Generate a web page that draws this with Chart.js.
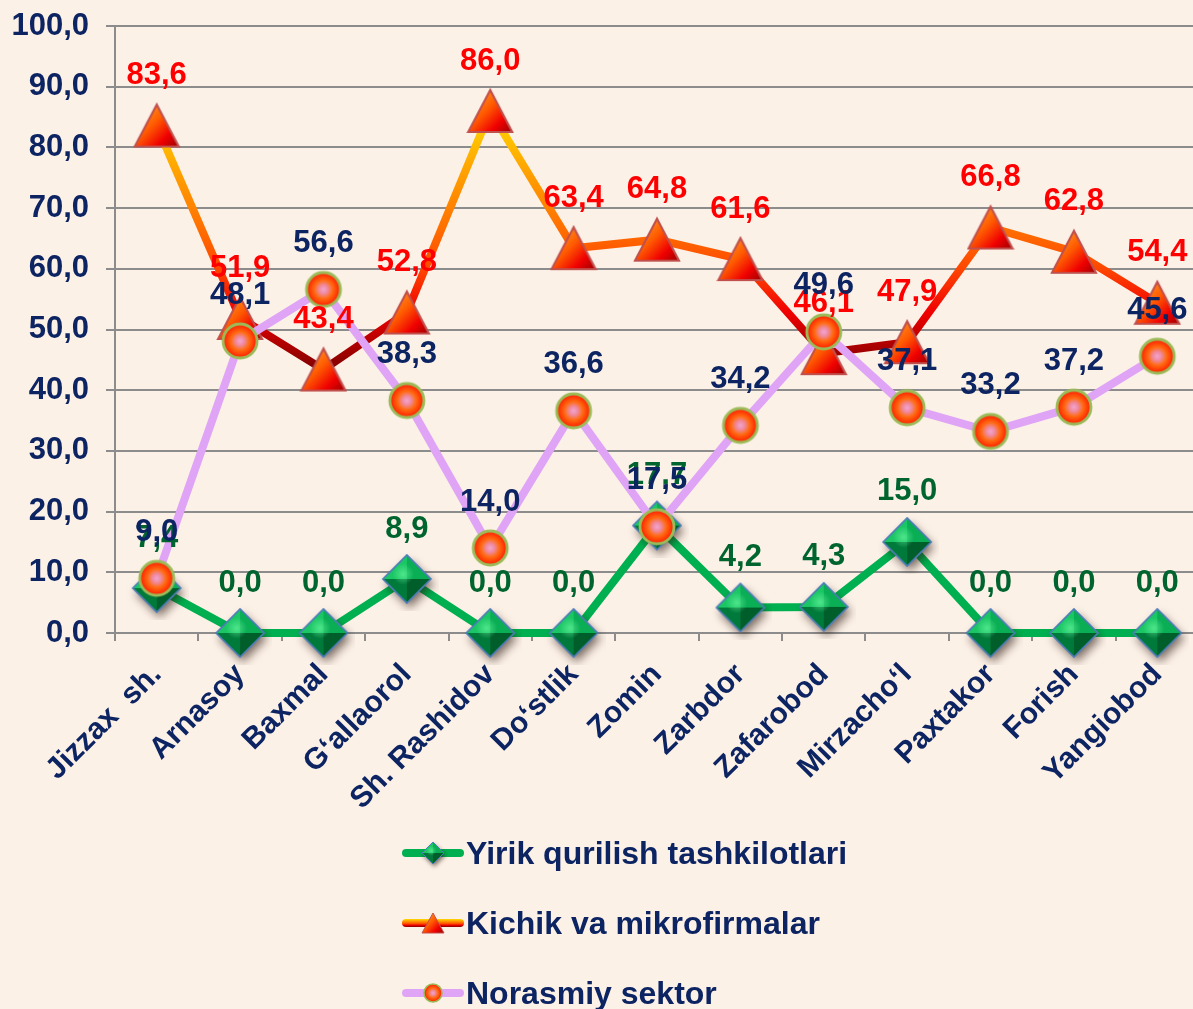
<!DOCTYPE html>
<html>
<head>
<meta charset="utf-8">
<script src="https://cdn.jsdelivr.net/npm/chart.js@4.4.1/dist/chart.umd.min.js"></script>
<style>
  html, body { margin: 0; padding: 0; background: #FCF1E7; overflow: hidden; }
  #wrap { position: relative; width: 1193px; height: 1009px; overflow: hidden; background: #FCF1E7; }
  #chart { position: absolute; left: 0; top: 0; }
  #legend { position: absolute; left: 402px; top: 818px; font: bold 32px "Liberation Sans", Arial, sans-serif; color: #0D2463; }
  .item { height: 70px; display: flex; align-items: center; white-space: nowrap; }
  .item canvas { margin-right: 2px; }
</style>
</head>
<body>
<div id="wrap">
  <canvas id="chart" width="1200" height="820"></canvas>
  <div id="legend"></div>
</div>
<script>
const districts = ['Jizzax  sh.', 'Arnasoy', 'Baxmal', 'G\u2018allaorol', 'Sh. Rashidov', 'Do\u2018stlik', 'Zomin',
  'Zarbdor', 'Zafarobod', 'Mirzacho\u2018l', 'Paxtakor', 'Forish', 'Yangiobod'];
const largeFirms = [7.4, 0.0, 0.0, 8.9, 0.0, 0.0, 17.7, 4.2, 4.3, 15.0, 0.0, 0.0, 0.0];
const smallFirms = [83.6, 51.9, 43.4, 52.8, 86.0, 63.4, 64.8, 61.6, 46.1, 47.9, 66.8, 62.8, 54.4];
const informal = [9.0, 48.1, 56.6, 38.3, 14.0, 36.6, 17.5, 34.2, 49.6, 37.1, 33.2, 37.2, 45.6];
const seriesNames = ['Yirik qurilish tashkilotlari', 'Kichik va mikrofirmalar', 'Norasmiy sektor'];
const yTicks = [0, 10, 20, 30, 40, 50, 60, 70, 80, 90, 100];

const NAVY = '#0D2463';
const FONT = '"Liberation Sans", Arial, sans-serif';
const fmt = v => v.toFixed(1).replace('.', ',');

// marker images (Excel-like 3d markers)
function makeDiamond(r) {
  const s = Math.ceil(r * 2 + 16), c = document.createElement('canvas');
  c.width = c.height = s;
  const g = c.getContext('2d'), cx = s / 2, cy = s / 2;
  const pts = [[cx - r, cy], [cx, cy - r], [cx + r, cy], [cx, cy + r]];
  const path = () => { g.beginPath(); pts.forEach((p, i) => i ? g.lineTo(p[0], p[1]) : g.moveTo(p[0], p[1])); g.closePath(); };
  g.save();
  g.shadowColor = 'rgba(40,20,10,0.6)'; g.shadowBlur = r * 0.4; g.shadowOffsetX = r * 0.12; g.shadowOffsetY = r * 0.22;
  path(); g.fillStyle = '#00743A'; g.fill();
  g.restore();
  const facets = [['#1BC665', 0, 1], ['#0AAE55', 1, 2], ['#005E2B', 2, 3], ['#007A3A', 3, 0]];
  facets.forEach(([col, a, b]) => {
    g.beginPath(); g.moveTo(pts[a][0], pts[a][1]); g.lineTo(pts[b][0], pts[b][1]); g.lineTo(cx, cy); g.closePath();
    g.fillStyle = col; g.fill();
  });
  // small highlight near the apex
  const hl = g.createRadialGradient(cx - r * 0.15, cy - r * 0.2, 0, cx - r * 0.15, cy - r * 0.2, r * 0.45);
  hl.addColorStop(0, 'rgba(120,255,170,0.55)'); hl.addColorStop(1, 'rgba(120,255,170,0)');
  path(); g.fillStyle = hl; g.fill();
  path(); g.strokeStyle = '#4F7DB8'; g.lineWidth = Math.max(1, r / 14); g.stroke();
  return c;
}

function makeTriangle(h) {
  const s = Math.ceil(h + 6), c = document.createElement('canvas');
  c.width = c.height = s;
  const g = c.getContext('2d'), cx = s / 2, cy = s / 2;
  g.beginPath(); g.moveTo(cx, cy - h / 2); g.lineTo(cx + h / 2 + 1, cy + h / 2); g.lineTo(cx - h / 2 - 1, cy + h / 2); g.closePath();
  const gr = g.createLinearGradient(cx - h / 2, cy - h / 2, cx + h / 2, cy + h / 2);
  gr.addColorStop(0, '#FFB030'); gr.addColorStop(0.45, '#FF5A00'); gr.addColorStop(0.75, '#F00000'); gr.addColorStop(1, '#A00000');
  g.fillStyle = gr; g.fill();
  g.strokeStyle = '#C0504D'; g.lineWidth = Math.max(1, h / 20); g.stroke();
  return c;
}

function makeCircle(r) {
  const s = Math.ceil(r * 2 + 6), c = document.createElement('canvas');
  c.width = c.height = s;
  const g = c.getContext('2d'), cx = s / 2, cy = s / 2;
  const gr = g.createRadialGradient(cx, cy, 0, cx, cy, r);
  gr.addColorStop(0, '#F2A6D0'); gr.addColorStop(0.25, '#F08AA0'); gr.addColorStop(0.55, '#FF6A10'); gr.addColorStop(1, '#FF1800');
  g.beginPath(); g.arc(cx, cy, r, 0, Math.PI * 2); g.fillStyle = gr; g.fill();
  g.strokeStyle = '#9BBB59'; g.lineWidth = Math.max(1.5, r / 6); g.stroke();
  return c;
}

const diamondImg = makeDiamond(24);
const triangleImg = makeTriangle(42);
const circleImg = makeCircle(17);

function smallFirmsGradient(ctx, top, bottom) {
  const gr = ctx.createLinearGradient(0, top, 0, bottom);
  gr.addColorStop(0, '#FFDC00');
  gr.addColorStop(0.2, '#FFAA00');
  gr.addColorStop(0.45, '#FF7000');
  gr.addColorStop(0.6, '#FF4A00');
  gr.addColorStop(0.78, '#F00000');
  gr.addColorStop(0.9, '#B00000');
  gr.addColorStop(1, '#800000');
  return gr;
}

const labelOffsets = [50, 50, 46];
const labelColors = ['#00642F', '#FF0000', NAVY];

const dataLabels = {
  id: 'dataLabels',
  afterDatasetsDraw(chart) {
    const c = chart.ctx;
    c.save();
    c.font = 'bold 31px ' + FONT;
    c.textAlign = 'center';
    c.textBaseline = 'middle';
    chart.data.datasets.forEach((ds, i) => {
      const meta = chart.getDatasetMeta(i);
      c.fillStyle = labelColors[i];
      meta.data.forEach((pt, j) => {
        c.fillText(fmt(ds.data[j]), pt.x, pt.y - labelOffsets[i]);
      });
    });
    c.restore();
  }
};

const chart = new Chart(document.getElementById('chart'), {
  type: 'line',
  data: {
    labels: districts,
    datasets: [
      {
        label: seriesNames[0], data: largeFirms, order: 3, clip: false,
        borderColor: '#00B050', borderWidth: 8,
        pointStyle: diamondImg, pointRadius: 24
      },
      {
        label: seriesNames[1], data: smallFirms, order: 2, clip: false,
        borderWidth: 8, pointStyle: triangleImg, pointRadius: 22,
        borderColor: (ctx) => {
          const ch = ctx.chart;
          if (!ch.chartArea) return '#FF6600';
          const y = ch.scales.y;
          return smallFirmsGradient(ch.ctx, y.getPixelForValue(Math.max(...smallFirms)), y.getPixelForValue(Math.min(...smallFirms)));
        }
      },
      {
        label: seriesNames[2], data: informal, order: 1, clip: false,
        borderColor: '#E0A4F6', borderWidth: 8,
        pointStyle: circleImg, pointRadius: 18
      }
    ]
  },
  options: {
    responsive: false,
    animation: false,
    events: [],
    devicePixelRatio: 1,
    layout: { autoPadding: false, padding: { top: 26, right: 1, left: 0, bottom: 0 } },
    plugins: {
      legend: { display: false },
      tooltip: { enabled: false }
    },
    scales: {
      x: {
        offset: true,
        grid: { drawOnChartArea: false, color: '#8C8C8C', lineWidth: 2, tickLength: 8, offset: true },
        border: { color: '#8C8C8C', width: 2 },
        ticks: {
          autoSkip: false, maxRotation: 45, minRotation: 45, padding: 16,
          color: NAVY, font: { family: FONT, size: 30, weight: 'bold' }
        },
        afterFit: (scale) => {
          scale.height = 187;
          scale.paddingLeft = 0; scale.paddingRight = 0;
        }
      },
      y: {
        min: 0, max: 100,
        afterBuildTicks: (scale) => { scale.ticks = yTicks.map(v => ({ value: v })); },
        grid: { color: '#8C8C8C', lineWidth: 2, tickLength: 9 },
        border: { color: '#8C8C8C', width: 2 },
        ticks: {
          padding: 17, color: NAVY,
          font: { family: FONT, size: 31, weight: 'bold' },
          callback: (v) => fmt(v)
        },
        afterFit: (scale) => {
          scale.width = 115;
          scale.paddingTop = 0; scale.paddingBottom = 0;
        }
      }
    }
  },
  plugins: [dataLabels]
});

// legend below the chart, one series per line
const legendEl = document.getElementById('legend');
const legendMarkers = [makeDiamond(11), makeTriangle(20), makeCircle(9)];
seriesNames.forEach((name, i) => {
  const item = document.createElement('div');
  item.className = 'item';
  const cv = document.createElement('canvas');
  cv.width = 62; cv.height = 40;
  const g = cv.getContext('2d');
  g.lineWidth = 8; g.lineCap = 'round';
  if (i === 1) g.strokeStyle = smallFirmsGradient(g, 16, 24);
  else g.strokeStyle = i === 0 ? '#00B050' : '#E0A4F6';
  g.beginPath(); g.moveTo(4, 20); g.lineTo(58, 20); g.stroke();
  const m = legendMarkers[i];
  g.drawImage(m, 31 - m.width / 2, 20 - m.height / 2);
  item.appendChild(cv);
  const span = document.createElement('span');
  span.textContent = name;
  item.appendChild(span);
  legendEl.appendChild(item);
});
</script>
</body>
</html>
